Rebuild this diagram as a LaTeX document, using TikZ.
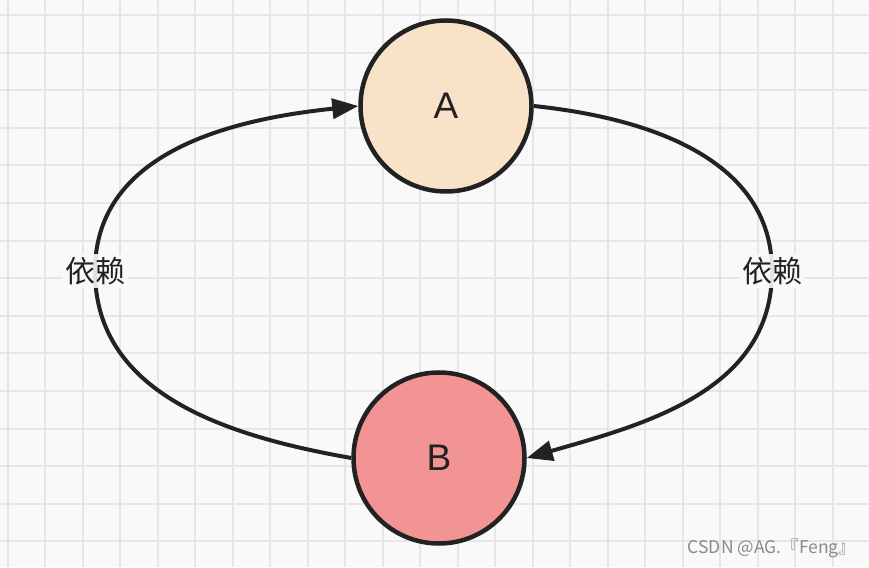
\documentclass[tikz,border=0pt]{standalone}
\usepackage{fontspec}
\setmainfont{Liberation Sans}
\newfontfamily\cjk{Noto Sans CJK SC}
\usetikzlibrary{arrows.meta}
\definecolor{bg}{HTML}{F9F9F9}
\definecolor{gridc}{HTML}{E6E6E6}
\definecolor{peach}{HTML}{F8E2C8}
\definecolor{rose}{HTML}{F29494}
\definecolor{ink}{HTML}{222222}
\definecolor{wmgray}{HTML}{8A8A8A}
\begin{document}
\begin{tikzpicture}[x=1pt,y=1pt,
  circ/.style={circle,draw=ink,line width=4.5pt,minimum size=171pt,inner sep=0pt,font=\fontsize{37}{37}\selectfont,text=ink},
  dep/.style={draw=ink,line width=4pt,-{Triangle[length=26pt,width=20pt]}},
  deplabel/.style={fill=bg,fill opacity=0.9,text opacity=1,font=\cjk\fontsize{30}{30}\selectfont,text=ink,inner sep=3pt}
]
\fill[bg] (0,0) rectangle (869,567);
\useasboundingbox (0,0) rectangle (869,567);
\foreach \i in {0,...,23} \draw[gridc,line width=2pt] ({7.5+37.5*\i},0) -- ++(0,567);
\foreach \j in {0,...,14} \draw[gridc,line width=2pt] (0,{552-37.6*\j}) -- ++(869,0);

\node[circ,fill=peach] (A) at (446,461) {A};
\node[circ,fill=rose] (B) at (439,109) {B};

\coordinate (lp1) at (95,296);
\coordinate (lp2) at (772,296);

\draw[dep] (B.west) to[out=170,in=-90] (lp1) to[out=90,in=186] (A.west);
\draw[dep] (A.east) to[out=-6,in=90] (lp2) to[out=-90,in=16] (B.east);

\node[deplabel] (l1) at (lp1) {依赖};
\node[deplabel] (l2) at (lp2) {依赖};

\node[font=\cjk\fontsize{17.5}{17.5}\selectfont,text=wmgray] (wm) at (772,19) {CSDN @AG.『Feng』};
\end{tikzpicture}
\end{document}
